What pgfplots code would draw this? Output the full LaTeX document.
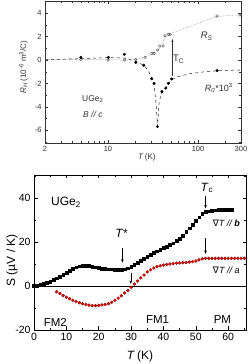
\documentclass[border=0pt]{standalone}
\usepackage{fontspec}
\setmainfont{Liberation Sans}
\setsansfont{Liberation Sans}
\newfontfamily\dejavu{DejaVu Sans}
\usepackage{pgfplots}
\pgfplotsset{compat=1.18}
\usetikzlibrary{arrows.meta}
\begin{document}
\begin{tikzpicture}
\path[use as bounding box] (0,0) rectangle (249pt,364pt);
% ---------------- top panel ----------------
\begin{axis}[
 at={(45pt,221pt)}, anchor=south west, scale only axis, width=196pt, height=142pt,
 xmode=log, xmin=2, xmax=300, ymin=-7.1, ymax=5.05,
 xtick={2,10,100,300}, xticklabels={2,10,100,300},
 minor xtick={3,4,5,6,7,8,9,20,30,40,50,60,70,80,90,200},
 ytick={-6,-4,-2,0,2,4}, minor ytick={-7,-5,-3,-1,1,3,5},
 tick align=inside, major tick length=3pt, minor tick length=1.6pt,
 ticklabel style={font=\fontsize{7.5}{9}\selectfont, text=black!80},
 /pgf/number format/assume math mode=true,
 axis line style={black!80, line width=0.5pt},
 every tick/.style={black!80, line width=0.4pt},
 xlabel={\textit{T}\,(K)},
 ylabel={\textit{R}\textsubscript{\textit{H}}\,(10\textsuperscript{-6} m\textsuperscript{3}/C)},
 label style={font=\fontsize{8}{9}\selectfont, text=black!80},
 xlabel style={at={(axis description cs:0.52,-0.1)}, anchor=center},
 ylabel style={at={(axis description cs:-0.11,0.535)}, anchor=center},
]
\addplot[black!50, densely dotted, line width=0.5pt, smooth] coordinates {
 (2,0.02) (5,0.05) (10,0.02) (15,0.0) (20.5,0.05) (25.4,0.23) (30.7,0.52) (35.5,0.85)
 (39,1.2) (43,1.9) (47,2.2) (60,2.5) (80,2.85) (110,3.25) (162,3.7) (300,3.87)};
\addplot[only marks, mark=o, mark size=1.3pt, black!70] coordinates {
 (5,0.05) (10,0.0) (15.3,0.0) (20.3,0.05) (25.8,0.23) (30.7,0.57) (32.5,0.57) (35.5,0.85)
 (37.5,1.2) (41,1.2) (43,2.08) (46.9,2.2) (49,2.2) (162,3.76) (292,3.85)};
\addplot[black!85, dashed, line width=0.5pt] coordinates {
 (2,0.02) (5,0.12) (10,0.2) (15,0.18) (20,-0.1) (25,-0.45) (28,-0.9) (30.7,-1.57)
 (32.5,-2.1) (34.3,-3.8) (35.5,-5.7) (37,-3.6) (39.7,-2.7) (43.9,-2.35) (50.9,-1.68)
 (60,-1.42) (80,-1.18) (120,-1.0) (164,-0.92) (300,-0.85)};
\addplot[only marks, mark=*, mark size=1.3pt, black] coordinates {
 (5,0.23) (10.1,0.23) (15.2,0.49) (20.4,-0.2) (25,-0.45) (30.6,-1.6) (32.5,-2.0)
 (35.5,-5.7) (39.7,-2.7) (43.9,-2.4) (46.8,-2.0) (50.9,-1.62) (163,-0.91)};
\draw[black!80, line width=0.5pt, -{Stealth[length=3pt,width=2.2pt]}] (axis cs:52,-1.3) -- (axis cs:52,1.8);
\fill[black!80] (axis cs:52,-1.3) circle (0.6pt);
\node[font=\fontsize{9.5}{10}\selectfont, text=black!80] at (axis cs:61,0.05) {T\textsubscript{C}};
\node[font=\fontsize{9.5}{10}\selectfont\itshape, text=black!80] at (axis cs:125,2.05) {R\textsubscript{S}};
\node[font=\fontsize{9}{10}\selectfont, text=black!80] at (axis cs:170,-2.4) {\textit{R\textsubscript{0}}*10\textsuperscript{3}};
\node[font=\fontsize{8.5}{10}\selectfont, text=black!80] at (axis cs:6.8,-3.36) {UGe\textsubscript{2}};
\node[font=\fontsize{8.5}{10}\selectfont\itshape, text=black!80] at (axis cs:6.8,-4.7) {B // c};
\end{axis}
% ---------------- bottom panel ----------------
\begin{axis}[
 at={(34pt,34pt)}, anchor=south west, scale only axis, width=212pt, height=155pt,
 xmin=0, xmax=65.5, ymin=-20, ymax=50.5,
 xtick={0,10,20,30,40,50,60}, minor xtick={5,15,25,35,45,55,65},
 ytick={-20,0,20,40}, minor ytick={-10,10,30,50},
 tick align=inside, major tick length=3.5pt, minor tick length=2pt,
 ticklabel style={font=\fontsize{10.5}{12}\selectfont},
 /pgf/number format/assume math mode=true,
 axis line style={line width=0.6pt},
 every tick/.style={black, line width=0.5pt},
 xlabel={\textit{T}\,(K)},
 ylabel={S (µV / K)},
 label style={font=\fontsize{12}{14}\selectfont},
 xlabel style={at={(axis description cs:0.5,-0.168)}, anchor=center},
 ylabel style={at={(axis description cs:-0.104,0.45)}, anchor=center},
]
\addplot[black, line width=0.5pt] coordinates {(0,0) (65.5,0)};
\addplot[only marks, mark=square*, mark size=1.35pt, black] coordinates {
 (0,0) (1,0.3) (2,0.7) (3,1.1) (4,1.6) (5,2.1) (6,2.8) (7,3.5) (8,4.3) (9,5.2)
 (10,6.1) (11,7.0) (12,7.8) (13,8.5) (14,9.0) (15,9.3) (16,9.3) (17,9.1) (18,8.8) (19,8.5)
 (20,8.2) (21,8.0) (22,7.8) (23,7.7) (24,7.6) (25,7.5) (26,7.4) (27,7.4) (28,7.6) (29,8.1)
 (30,8.8) (31,9.6) (32,10.5) (33,11.5) (34,12.5) (35,13.4) (36,14.2) (37,15.0) (38,15.9) (39,16.6)
 (40,17.3) (41,18.0) (42,18.7) (43,19.5) (44,20.5) (45,21.6) (46,23.0) (47,24.6) (48,26.3) (49,28.0)
 (50,29.7) (51,31.3) (52,33.0) (53,33.7) (54,34.0) (55,34.3) (56,34.5) (57,34.6) (58,34.7) (59,34.7)
 (60,34.7) (61,34.6)};
\addplot[only marks, mark=*, mark size=1.5pt, fill=red, draw=red!45!black, line width=0.3pt] coordinates {
 (7,-2.6) (8,-3.4) (9,-4.3) (10,-5.1) (11,-5.8) (12,-6.5) (13,-7.1) (14,-7.6) (15,-8.0) (16,-8.4)
 (17,-8.7) (18,-8.9) (19,-8.9) (20,-8.8) (21,-8.6) (22,-8.4) (23,-8.0) (24,-7.4) (25,-6.5) (26,-5.5)
 (27,-4.4) (28,-3.2) (29,-2.0) (30,-0.6) (31,0.9) (32,2.3) (33,3.7) (34,5.0) (35,6.4) (36,7.4)
 (37,8.2) (38,8.8) (39,9.2) (40,9.5) (41,9.8) (42,10.0) (43,10.2) (44,10.4) (45,10.5) (46,10.6)
 (47,10.7) (48,10.9) (49,11.1) (50,11.4) (51,11.9) (52,12.4) (53,12.6) (54,12.6) (55,12.6) (56,12.6)
 (57,12.6) (58,12.6) (59,12.6) (60,12.6) (61,12.6) (62,12.6) (63,12.6) (64,12.6) (65,12.6)};
\draw[black, line width=0.5pt, -{Stealth[length=3.5pt,width=2.6pt]}] (axis cs:27.3,17.2) -- (axis cs:27.3,10.6);
\draw[black, line width=0.5pt, -{Stealth[length=3.5pt,width=2.6pt]}] (axis cs:29.9,5.8) -- (axis cs:29.9,1.0);
\draw[black, line width=0.5pt, -{Stealth[length=3.5pt,width=2.6pt]}] (axis cs:53,40.8) -- (axis cs:53,35.3);
\draw[black, line width=0.5pt, -{Stealth[length=3.5pt,width=2.6pt]}] (axis cs:53,21.8) -- (axis cs:53,14.6);
\node[font=\fontsize{12}{14}\selectfont] at (axis cs:9.9,38) {UGe\textsubscript{2}};
\node[font=\fontsize{12}{14}\selectfont\itshape] at (axis cs:27,24) {T*};
\node[font=\fontsize{12}{14}\selectfont] at (axis cs:53.4,44.6) {\textit{T}\textsubscript{c}};
\node[font=\fontsize{9}{10}\selectfont] at (axis cs:59.4,28.5) {{\dejavu ∇}\textit{T // \textbf{b}}};
\node[font=\fontsize{9}{10}\selectfont] at (axis cs:59.4,7.3) {{\dejavu ∇}\textit{T // a}};
\node[font=\fontsize{11.5}{13}\selectfont] at (axis cs:6.6,-16.6) {FM2};
\node[font=\fontsize{11.5}{13}\selectfont] at (axis cs:38.2,-15.2) {FM1};
\node[font=\fontsize{11.5}{13}\selectfont] at (axis cs:58.2,-15.2) {PM};
\end{axis}
\end{tikzpicture}
\end{document}
